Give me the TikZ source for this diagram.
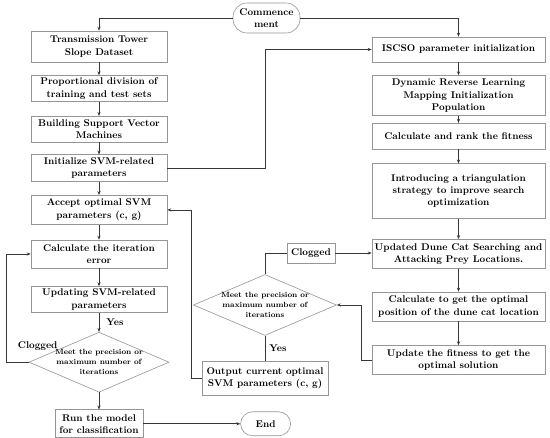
\documentclass[tikz,border=0pt]{standalone}
\usepackage{tikz}
\usetikzlibrary{
  shapes.geometric, arrows.meta, positioning, calc
}
\usepackage{xcolor}
\definecolor{boxedge}{RGB}{150,150,150}
\definecolor{lineink}{RGB}{55,55,55}
\tikzset{
  basebox/.style={
    rectangle, draw=boxedge, line width=0.6pt, align=center, inner sep=1pt,
    font=\fontsize{9.8}{12.2}\selectfont\bfseries
  },
  leftbox/.style={basebox, minimum width=136pt, minimum height=26pt},
  rightbox/.style={basebox, minimum width=173pt, minimum height=29pt},
  termbox/.style={basebox, rounded corners=12pt},
  judgebox/.style={diamond, draw=boxedge, line width=0.6pt, align=center, aspect=2.33,
    inner xsep=-4pt, inner ysep=0pt, minimum width=140pt, minimum height=60pt,
    font=\fontsize{7.6}{10}\selectfont\bfseries},
  lbl/.style={inner sep=1pt, font=\fontsize{9.8}{12}\selectfont\bfseries},
  link/.style={draw=lineink, line width=0.65pt},
  arrow/.style={link, ->, >={Stealth[length=4pt,width=3.2pt]}}
}

\begin{document}
\begin{tikzpicture}[x=1pt, y=1pt]
  \path[use as bounding box, fill=white] (0,0) rectangle (550,-438);

  % start and end
  \node[termbox, minimum width=67pt, minimum height=30pt, rounded corners=14pt] (start) at (266.5,-18)
        {Commence\\ment};

  % SVM column
  \node[leftbox, minimum height=31pt] (tds) at (99,-46.5) {Transmission Tower\\Slope Dataset};
  \node[leftbox, below=13pt of tds] (split) {Proportional division of\\training and test sets};
  \node[leftbox, below=14pt of split] (svmbuild) {Building Support Vector\\Machines};
  \node[leftbox, minimum height=27pt, below=12pt of svmbuild] (svminit) {Initialize SVM-related\\parameters};
  \node[leftbox, minimum height=29pt, below=13pt of svminit] (accept) {Accept optimal SVM\\parameters (c, g)};
  \node[leftbox, minimum height=28pt, below=15pt of accept] (iterr) {Calculate the iteration\\error};
  \node[leftbox, below=18pt of iterr] (update) {Updating SVM-related\\parameters};
  \node[judgebox, below=19pt of update] (judge1) {Meet the precision or\\maximum number of\\iterations};
  \node[basebox, minimum width=88pt, minimum height=28pt, below=17pt of judge1] (run)
        {Run the model\\for classification};
  \node[termbox, minimum width=50pt, minimum height=24pt, right=97pt of run] (finish) {End};

  % ISCSO column
  \node[rightbox, minimum height=25pt] (iscso) at (458.5,-49.5) {ISCSO parameter initialization};
  \node[rightbox, minimum height=40pt, below=13pt of iscso] (drl)
        {Dynamic Reverse Learning\\Mapping Initialization\\Population};
  \node[rightbox, minimum height=26pt, below=7pt of drl] (rank) {Calculate and rank the fitness};
  \node[rightbox, minimum height=55pt, below=14pt of rank] (tri)
        {Introducing a triangulation\\strategy to improve search\\optimization};
  \node[rightbox, below=20pt of tri] (dunecat) {Updated Dune Cat Searching and\\Attacking Prey Locations.};
  \node[rightbox, below=23pt of dunecat] (optpos) {Calculate to get the optimal\\position of the dune cat location};
  \node[rightbox, below=24pt of optpos] (fitupd) {Update the fitness to get the\\optimal solution};

  % middle part
  \node[judgebox, minimum width=143pt, minimum height=61pt] (judge2) at (265,-305)
        {Meet the precision or\\maximum number of\\iterations};
  \node[basebox, minimum width=48pt, minimum height=20pt] (clog2) at (311,-253) {Clogged};
  \node[basebox, minimum width=126pt, minimum height=34pt, below=25pt of judge2] (output)
        {Output current optimal\\SVM parameters (c, g)};

  % start branches
  \draw[arrow] (start.west) -| (tds.north);
  \draw[arrow] (start.east) -| (iscso.north);

  % SVM flow
  \draw[arrow] (tds) -- (split);
  \draw[arrow] (split) -- (svmbuild);
  \draw[arrow] (svmbuild) -- (svminit);
  \draw[arrow] (svminit) -- (accept);
  \draw[arrow] (accept) -- (iterr);
  \draw[arrow] (iterr) -- (update);
  \draw[arrow] (update) -- node[lbl, right=6pt]{Yes} (judge1);
  \draw[arrow] (judge1.west) -- node[lbl, above=10pt, xshift=20pt]{Clogged} ++(-22pt,0) |- (iterr.west);
  \draw[arrow] (judge1) -- (run);
  \draw[arrow] (run) -- (finish);

  % handover to ISCSO
  \draw[arrow] (svminit.east) -- (svminit.east -| judge2.north) |- (iscso.west);

  % ISCSO flow
  \draw[arrow] (iscso) -- (drl);
  \draw[arrow] (drl) -- (rank);
  \draw[arrow] (rank) -- (tri);
  \draw[arrow] (tri) -- (dunecat);
  \draw[arrow] (dunecat) -- (optpos);
  \draw[arrow] (optpos) -- (fitupd);
  \draw[arrow] (fitupd.west) -- ++(-10pt,0) |- (judge2.east);

  % loop back
  \draw[link] (judge2.north) |- (clog2.west);
  \draw[arrow] (clog2.east) -- (clog2.east -| dunecat.west);
  \draw[link] (judge2) -- node[lbl, right=3pt]{Yes} (output);
  \draw[arrow] (output.west) -- ++(-10pt,0) |- (accept.east);
\end{tikzpicture}
\end{document}
